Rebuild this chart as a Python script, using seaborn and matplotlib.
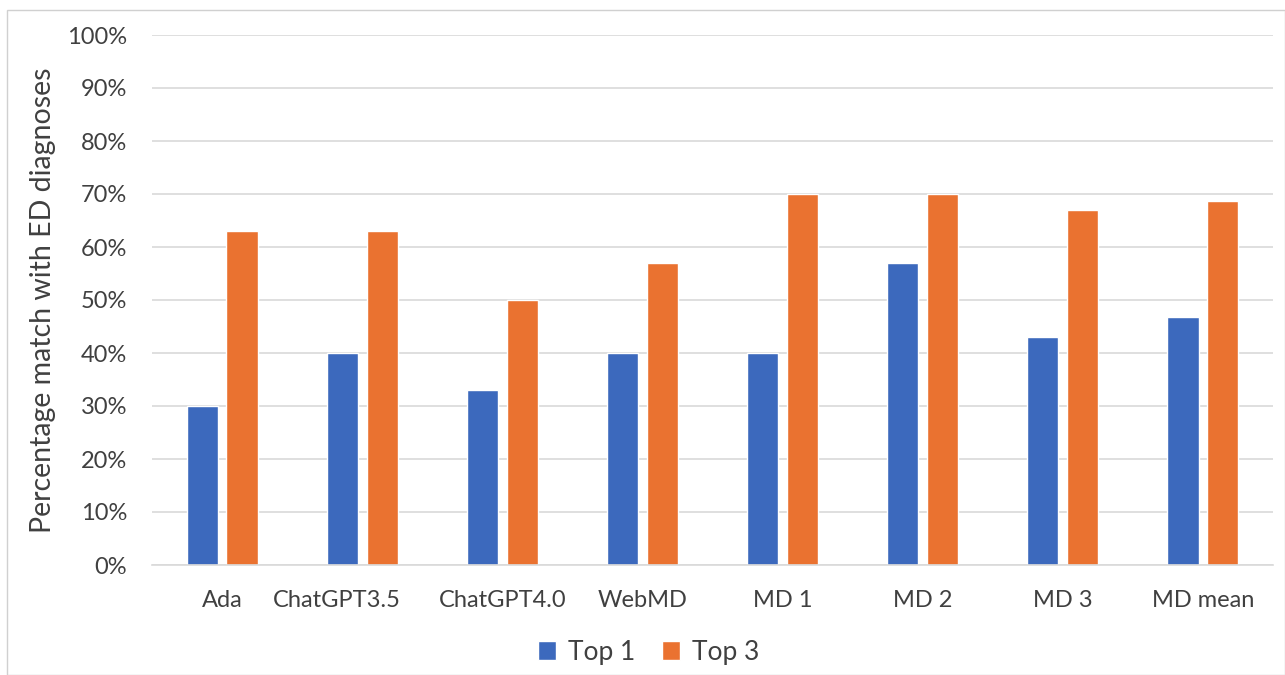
import pandas as pd
import matplotlib.pyplot as plt
import matplotlib.transforms as mtransforms
import seaborn as sns
from matplotlib.patches import Rectangle
from matplotlib.ticker import PercentFormatter

# values (fraction of cases)
categories = ['Ada', 'ChatGPT3.5', 'ChatGPT4.0', 'WebMD', 'MD 1', 'MD 2', 'MD 3', 'MD mean']
top1 = [0.30, 0.40, 0.33, 0.40, 0.40, 0.57, 0.43, 0.467]
top3 = [0.63, 0.63, 0.50, 0.57, 0.70, 0.70, 0.67, 0.687]
series = ['Top 1', 'Top 3']
colors = ['#3C69BD', '#EA7230']

df = pd.DataFrame({
    'cat': categories * 2,
    'series': [series[0]] * len(categories) + [series[1]] * len(categories),
    'value': top1 + top3,
})

sns.set_style('white')
plt.rcParams['font.family'] = ['Lato', 'DejaVu Sans']

fig = plt.figure(figsize=(12.85, 6.75), dpi=100)
ax = fig.add_axes([152 / 1285, 1 - 565 / 675, (1273 - 152) / 1285, (565 - 35) / 675])

sns.barplot(data=df, x='cat', y='value', hue='series', palette=colors,
            width=0.57, gap=0.22, saturation=1, ax=ax, legend=True)

ax.set_ylim(0, 1)
ax.set_xlim(-0.5, len(categories) - 0.5)
ax.set_yticks([i / 10 for i in range(11)])
ax.yaxis.set_major_formatter(PercentFormatter(1.0, decimals=0))
ax.yaxis.grid(True, color='#D9D9D9', linewidth=1.2)
ax.set_axisbelow(True)
for s in ['top', 'right', 'left']:
    ax.spines[s].set_visible(False)
ax.spines['bottom'].set_color('#D9D9D9')
ax.spines['bottom'].set_linewidth(1.2)

ax.tick_params(axis='y', length=0, pad=18, labelsize=17, labelcolor='#404040')
ax.tick_params(axis='x', length=0, pad=18, labelsize=17, labelcolor='#404040')
ax.set_xlabel('')
ax.set_ylabel('Percentage match with ED diagnoses', fontsize=20.5, color='#404040', labelpad=8)

# the second category label sits a little left of its bars in the original
lbl = ax.get_xticklabels()[1]
lbl.set_transform(lbl.get_transform() + mtransforms.ScaledTranslation(-0.25, 0, fig.dpi_scale_trans))

leg = ax.legend(loc='center', bbox_to_anchor=(0.443, -0.165), ncol=2, frameon=False,
                fontsize=19, handlelength=0.7, handleheight=0.7, handletextpad=0.45,
                columnspacing=1.0, labelcolor='#404040')

# outer chart border
fig.patches.append(Rectangle((7 / 1285, 0), 1 - 7 / 1285, 1 - 10 / 675, transform=fig.transFigure,
                             fill=False, edgecolor='#D0D0D0', linewidth=1))

fig.savefig('out.png', dpi=100)
